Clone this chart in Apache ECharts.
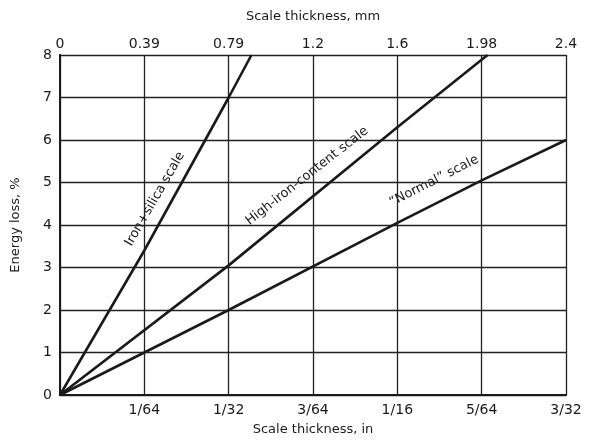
<!DOCTYPE html>
<html>
<head>
<meta charset="utf-8">
<script src="https://cdn.jsdelivr.net/npm/echarts@6/dist/echarts.min.js"></script>
<style>html,body{margin:0;padding:0;background:#fff}#c{width:595px;height:445px}</style>
</head>
<body>
<div id="c"></div>
<script>
// x in units of 1/64 inch
const inchLabels = ['', '1/64', '1/32', '3/64', '1/16', '5/64', '3/32'];
const mmLabels = ['0', '0.39', '0.79', '1.2', '1.6', '1.98', '2.4'];
const ironSilica = [[0, 0], [1, 3.4], [2, 7], [2.27, 8]];
const highIron = [[0, 0], [2, 3.05], [4, 6.3], [5.07, 8]];
const normal = [[0, 0], [1, 1], [2, 2], [4, 4.05], [5, 5.05], [6, 6]];
const seriesNames = ['Iron+silica scale', 'High-iron-content scale', '\u201CNormal\u201D scale'];

const FONT = 'DejaVu Sans';
const INK = '#1a1a1a';
const chart = echarts.init(document.getElementById('c'), null, {renderer: 'canvas'});
const lineStyle = {color: INK, width: 2.6};
const gridLine = {show: true, lineStyle: {color: '#222', width: 1.3}};
chart.setOption({
  animation: false,
  backgroundColor: '#fff',
  grid: {left: 60, right: 29, top: 55, bottom: 50},
  xAxis: [
    {type: 'value', position: 'bottom', min: 0, max: 6, interval: 1,
     name: 'Scale thickness, in', nameLocation: 'middle', nameGap: 28,
     nameTextStyle: {fontFamily: FONT, fontSize: 13, color: INK},
     axisLine: {show: true, lineStyle: {color: INK, width: 2}},
     axisTick: {show: false},
     axisLabel: {fontFamily: FONT, fontSize: 14, color: INK, margin: 8,
       formatter: v => inchLabels[Math.round(v)] || ''},
     splitLine: gridLine},
    {type: 'value', position: 'top', min: 0, max: 6, interval: 1,
     name: 'Scale thickness, mm', nameLocation: 'middle', nameGap: 32,
     nameTextStyle: {fontFamily: FONT, fontSize: 13, color: INK},
     axisLine: {show: true, lineStyle: {color: INK, width: 2}},
     axisTick: {show: false},
     axisLabel: {fontFamily: FONT, fontSize: 14, color: INK, margin: 4,
       formatter: v => mmLabels[Math.round(v)] || ''},
     splitLine: {show: false}}
  ],
  yAxis: [
    {type: 'value', min: 0, max: 8, interval: 1, position: 'left',
     name: 'Energy loss, %', nameLocation: 'middle', nameGap: 38, nameRotate: 90,
     nameTextStyle: {fontFamily: FONT, fontSize: 13, color: INK},
     axisLine: {show: true, lineStyle: {color: INK, width: 2}},
     axisTick: {show: false},
     axisLabel: {fontFamily: FONT, fontSize: 14, color: INK, margin: 8},
     splitLine: gridLine},
    {type: 'value', min: 0, max: 8, interval: 1, position: 'right',
     axisLine: {show: true, lineStyle: {color: INK, width: 2}},
     axisTick: {show: false}, axisLabel: {show: false}, splitLine: {show: false}}
  ],
  series: [
    {name: seriesNames[0], type: 'line', data: ironSilica, showSymbol: false, lineStyle, clip: true},
    {name: seriesNames[1], type: 'line', data: highIron, showSymbol: false, lineStyle, clip: true},
    {name: seriesNames[2], type: 'line', data: normal, showSymbol: false, lineStyle, clip: true}
  ],
  graphic: [
    {type: 'text', x: 155, y: 199, rotation: 60 * Math.PI / 180,
     style: {text: seriesNames[0], font: '13px "' + FONT + '"', fill: INK, textAlign: 'center', textVerticalAlign: 'middle'}},
    {type: 'text', x: 307, y: 176, rotation: 38 * Math.PI / 180,
     style: {text: seriesNames[1], font: '13px "' + FONT + '"', fill: INK, textAlign: 'center', textVerticalAlign: 'middle'}},
    {type: 'text', x: 434, y: 181, rotation: 27 * Math.PI / 180,
     style: {text: seriesNames[2], font: '13px "' + FONT + '"', fill: INK, textAlign: 'center', textVerticalAlign: 'middle'}}
  ]
});
</script>
</body>
</html>
